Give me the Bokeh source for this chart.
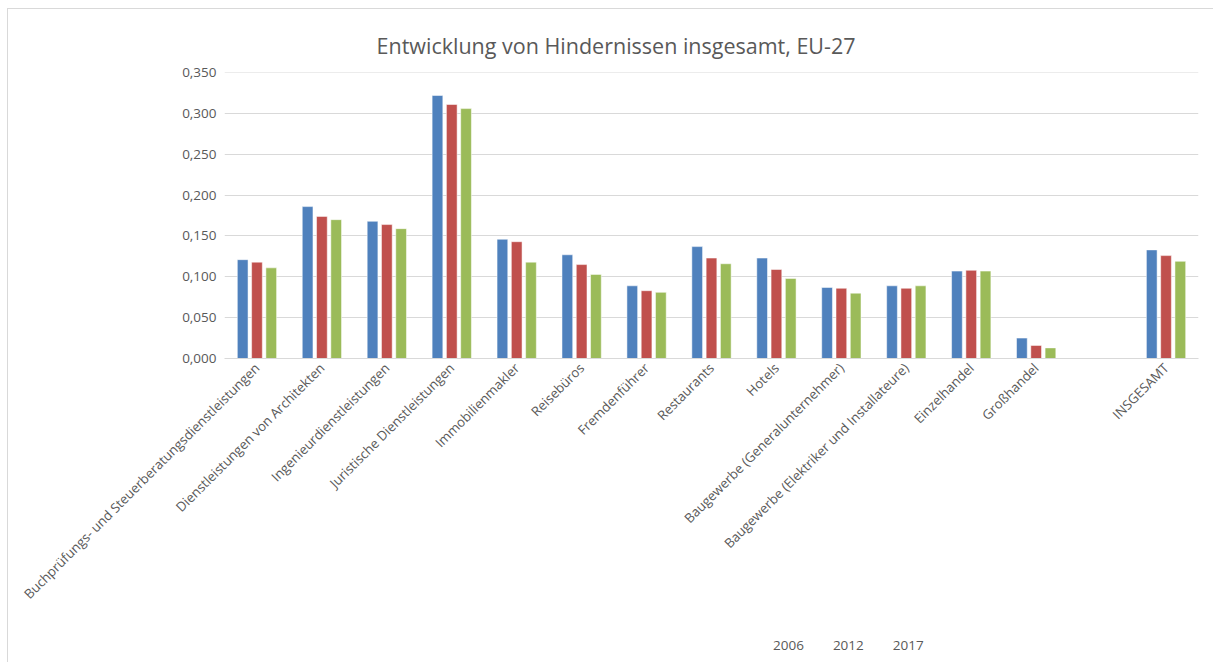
from bokeh.plotting import figure
from bokeh.layouts import column
from bokeh.models import (ColumnDataSource, FactorRange, Range1d, SingleIntervalTicker,
                          CustomJSTickFormatter, Legend, LegendItem, InlineStyleSheet)
from bokeh.transform import dodge
from bokeh.embed import file_html
from bokeh.resources import INLINE
import math

categories = [
    "Buchprüfungs- und Steuerberatungsdienstleistungen",
    "Dienstleistungen von Architekten",
    "Ingenieurdienstleistungen",
    "Juristische Dienstleistungen",
    "Immobilienmakler",
    "Reisebüros",
    "Fremdenführer",
    "Restaurants",
    "Hotels",
    "Baugewerbe (Generalunternehmer)",
    "Baugewerbe (Elektriker und Installateure)",
    "Einzelhandel",
    "Großhandel",
    " ",
    "INSGESAMT",
]
years = ["2006", "2012", "2017"]
v2006 = [0.121, 0.186, 0.168, 0.322, 0.146, 0.127, 0.089, 0.137, 0.123, 0.087, 0.089, 0.107, 0.025, float("nan"), 0.133]
v2012 = [0.118, 0.174, 0.164, 0.311, 0.143, 0.115, 0.083, 0.123, 0.109, 0.086, 0.086, 0.108, 0.016, float("nan"), 0.126]
v2017 = [0.111, 0.170, 0.159, 0.306, 0.118, 0.103, 0.081, 0.116, 0.098, 0.080, 0.089, 0.107, 0.013, float("nan"), 0.119]
colors = ["#4F81BD", "#C0504D", "#9BBB59"]

FONT = "Open Sans"
GRAY = "#595959"

src = ColumnDataSource(dict(cat=categories, y2006=v2006, y2012=v2012, y2017=v2017))

p = figure(frame_width=974, frame_height=286,
           x_range=FactorRange(factors=categories, range_padding=0),
           y_range=Range1d(0, 0.3502), output_backend="svg", toolbar_location=None,
           min_border_left=224, min_border_right=15, min_border_top=72, min_border_bottom=0)

p.stylesheets = [InlineStyleSheet(css=(
    ":host::after { content: ''; position: absolute; left: 7px; top: 8px; "
    "width: 1206px; height: 654px; box-sizing: border-box; "
    "border-top: 1px solid #d9d9d9; border-left: 1px solid #d9d9d9; pointer-events: none; }"))]

p.title.text = "Entwicklung von Hindernissen insgesamt, EU-27"
p.title.text_font = FONT
p.title.text_font_size = "21.5px"
p.title.text_font_style = "normal"
p.title.text_color = GRAY
p.title.align = "left"
p.title.offset = 152
p.title.standoff = 26

offsets = [-0.22, 0.0, 0.22]
for yr, col, off in zip(years, colors, offsets):
    p.vbar(x=dodge("cat", off, range=p.x_range), top="y" + yr, width=0.165, source=src,
           fill_color=col, line_color="white", line_alpha=0.5, line_width=1)

p.outline_line_color = None
p.xgrid.grid_line_color = None
p.ygrid.grid_line_color = "#d9d9d9"
p.ygrid.grid_line_width = 1

p.yaxis.ticker = SingleIntervalTicker(interval=0.05)
p.yaxis.formatter = CustomJSTickFormatter(code="return tick.toFixed(3).replace('.', ',');")
p.yaxis.axis_line_color = None
p.yaxis.major_tick_line_color = None
p.yaxis.minor_tick_line_color = None
p.yaxis.major_tick_out = 0
p.yaxis.minor_tick_out = 0
p.yaxis.major_label_text_font = FONT
p.yaxis.major_label_text_font_size = "13.5px"
p.yaxis.major_label_text_color = GRAY
p.yaxis.major_label_standoff = 8

p.xaxis.axis_line_color = "#d9d9d9"
p.xaxis.major_tick_line_color = None
p.xaxis.minor_tick_line_color = None
p.xaxis.major_tick_out = 0
p.xaxis.major_tick_in = 0
p.xaxis.minor_tick_out = 0
p.xaxis.axis_label_standoff = 0
p.xaxis.major_label_orientation = math.pi / 4
p.xaxis.major_label_text_font = FONT
p.xaxis.major_label_text_font_size = "13.2px"
p.xaxis.major_label_text_color = GRAY
p.xaxis.major_label_standoff = 7

# Separate legend strip, positioned at the bottom of the chart area
leg = figure(width=1200, height=22, x_range=FactorRange(factors=categories), y_range=Range1d(0, 1),
             output_backend="svg", toolbar_location=None, min_border=0,
             x_axis_location=None, y_axis_location=None)
leg.outline_line_color = None
leg.grid.visible = False
leg.background_fill_alpha = 0
leg.border_fill_alpha = 0
leg.styles = {"position": "absolute", "top": "632px", "left": "0px"}

empty = ColumnDataSource(dict(cat=[], top=[]))
leg_renderers = []
for yr, col in zip(years, colors):
    r = leg.vbar(x="cat", top="top", width=0.165, source=empty, fill_color=col, line_color=None)
    leg_renderers.append(r)

legend = Legend(items=[LegendItem(label=yr, renderers=[r]) for yr, r in zip(years, leg_renderers)],
                orientation="horizontal", location=(536, 0),
                label_text_font=FONT, label_text_font_size="13.5px", label_text_color=GRAY,
                glyph_width=9, glyph_height=9, spacing=16, label_standoff=4, label_height=14,
                border_line_color=None, background_fill_alpha=0, padding=2, margin=0)
leg.add_layout(legend, "center")

layout = column(p, leg, spacing=0)
open("out.html", "w").write(file_html(layout, INLINE))
